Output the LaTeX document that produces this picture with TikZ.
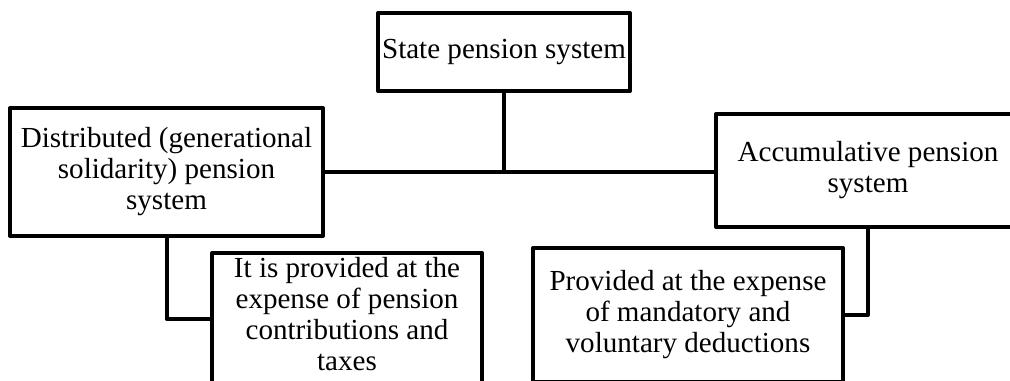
\documentclass[tikz,border=0pt]{standalone}
\usepackage{fontspec}
\setmainfont{Liberation Serif}
\begin{document}
\begin{tikzpicture}[x=0.75pt,y=-0.75pt,
  txt/.style={align=center, font=\fontsize{21.8pt}{23.25pt}\selectfont},
  box/.style={draw, line width=3pt, line join=round, inner sep=0pt, txt},
  link/.style={line width=3pt, line join=round}]
\useasboundingbox (0,0) rectangle (1010,380);
\clip (0,0) rectangle (1010,380);
\node[box, minimum width=189pt, minimum height=58.5pt] (top) at (504,52) {State pension system};
\node[box, minimum width=234.75pt, minimum height=96pt] (left) at (166.5,172) {Distributed (generational\\solidarity) pension\\system};
\node[box, minimum width=228pt, minimum height=84.75pt] (right) at (868,170.5) {Accumulative pension\\system};
\node[box, minimum width=202.5pt, minimum height=99pt,
  label={[txt, anchor=north, inner sep=0pt, yshift=-4.5pt]north:It is provided at the\\expense of pension\\contributions and\\taxes}] (bl) at (347,319) {};
\node[box, minimum width=232.5pt, minimum height=100.5pt] (br) at (688,315) {Provided at the expense\\of mandatory and\\voluntary deductions};
\coordinate (j) at (top.south |- left.east);
\draw[link] (top.south) -- (j);
\draw[link] (left.east) -- (left.east -| right.west);
\draw[link] (left.south) |- (bl.west);
\draw[link] (right.south) |- (br.east);
\end{tikzpicture}
\end{document}
